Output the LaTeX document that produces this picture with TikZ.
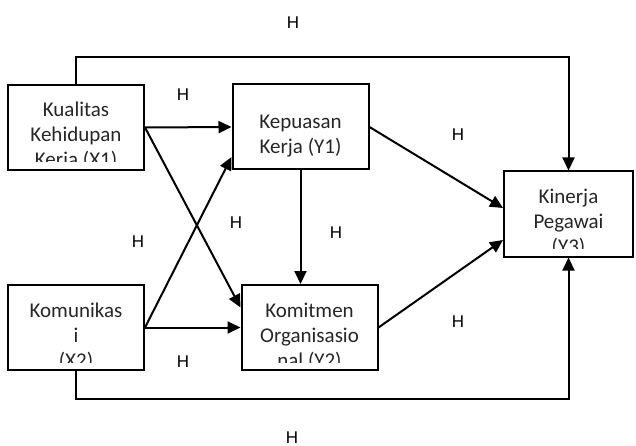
\documentclass[tikz,border=0pt]{standalone}
\usepackage{fontspec}
\setmainfont{Carlito}
\newfontfamily\labfont{Liberation Sans}
\usetikzlibrary{arrows.meta}
\newcommand{\boxfont}{\fontsize{21}{25}\selectfont}

\begin{document}
\begin{tikzpicture}[x=1pt, y=-1pt,
	var/.style={draw, line width=2pt, minimum width=136pt, minimum height=85pt, inner sep=0pt,
		path picture={
			\clip ([yshift=8pt]path picture bounding box.south west) rectangle (path picture bounding box.north east);
			\node [anchor=north, align=center, inner sep=0pt, font=\boxfont, text=black!85]
				at ([yshift=-8pt]path picture bounding box.north) {#1};
		}},
	arr/.style={line width=2pt, -{Triangle[length=13pt, width=12pt]}},
	hlab/.style={font=\labfont\fontsize{17}{20}\selectfont}]
	\useasboundingbox (0,0) rectangle (636,446);
	% variabel
	\node [var={Kualitas\\Kehidupan\\Kerja (X1)}] (x1) at (76,127.5) {};
	\node [var={Kepuasan\\Kerja (Y1)}] (y1) at (300.5,127) {};
	\node [var={Komunikas\\i\\(X2)}] (x2) at (76,327.5) {};
	\node [var={Komitmen\\Organisasio\\nal (Y2)}] (y2) at (309.5,327.5) {};
	\node [var={Kinerja\\Pegawai\\(Y3)}, minimum width=129pt] (y3) at (568.5,214) {};
	% jalur
	\draw [arr] (x1.north) -- ++(0,-27) -| (y3.north);
	\draw [arr] (x2.south) -- ++(0,28) -| (y3.south);
	\draw [arr] (x1.east) -- (y1.west);
	\draw [arr] (x1.east) -- ([yshift=20pt]y2.west);
	\draw [arr] (x2.east) -- ([yshift=-30pt]y1.west);
	\draw [arr] (x2.east) -- (y2.west);
	\draw [arr] (y1.south) -- (y1.south |- y2.north);
	\draw [arr] (y1.east) -- ([yshift=6pt]y3.west);
	\draw [arr] (y2.east) -- ([yshift=-26pt]y3.west);
	% hipotesis
	\node [hlab] (h1) at (293,23) {H};
	\node [hlab] (h2) at (183,95) {H};
	\node [hlab] (h3) at (458,135) {H};
	\node [hlab] (h4) at (236,223) {H};
	\node [hlab] (h5) at (336,233) {H};
	\node [hlab] (h6) at (138,242) {H};
	\node [hlab] (h7) at (458,322) {H};
	\node [hlab] (h8) at (183,362) {H};
	\node [hlab] (h9) at (292,438) {H};
\end{tikzpicture}
\end{document}
